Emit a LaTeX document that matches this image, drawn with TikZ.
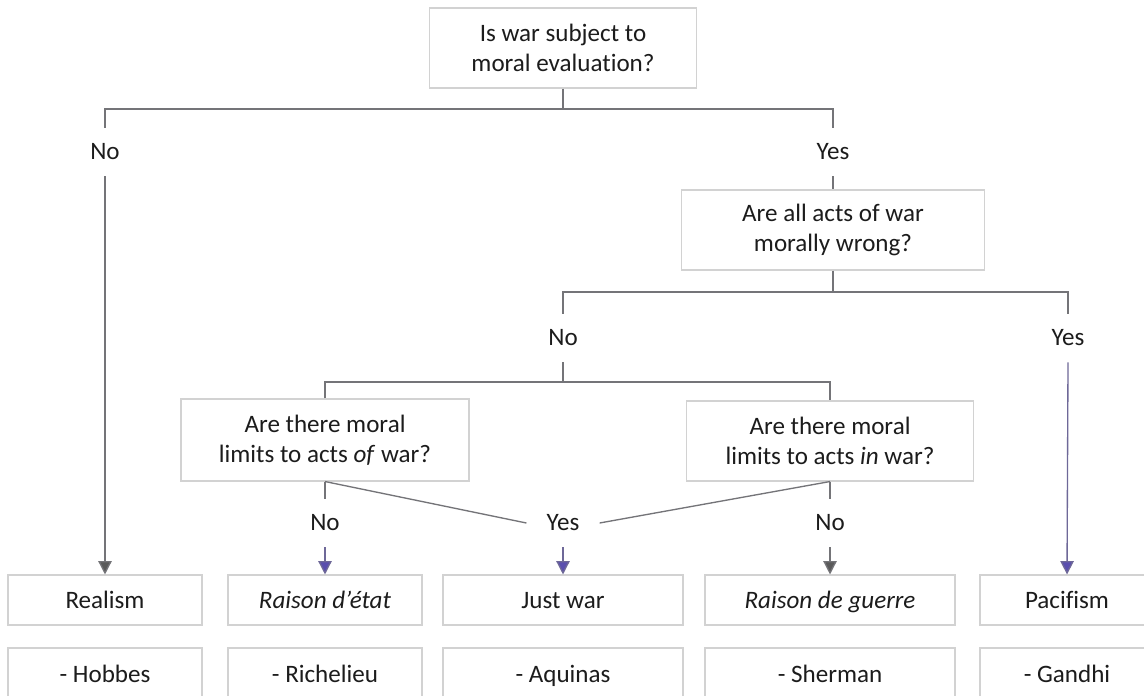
\documentclass[tikz,border=0pt]{standalone}
\usepackage{fontspec}
\setmainfont{Carlito}[Ligatures=NoCommon]
\usetikzlibrary{arrows.meta}
\definecolor{linegray}{HTML}{747478}
\definecolor{boxgray}{HTML}{D2D2D2}
\definecolor{inkblack}{HTML}{1C1C1C}
\definecolor{tipgray}{HTML}{5A5A5A}
\definecolor{tippurple}{HTML}{5A4EAE}
\definecolor{linepurple}{HTML}{6E6898}
\newcommand{\chartfont}{\fontsize{18.8pt}{22.5pt}\selectfont}
\tikzset{
  qbox/.style={draw=boxgray, line width=0.8pt, fill=white, inner sep=0pt,
    align=center, text=inkblack, font=\chartfont},
  onebox/.style={qbox, text height=16pt, text depth=3.5pt},
  answer/.style={inner xsep=15pt, inner ysep=0pt, minimum height=36pt,
    text=inkblack, font=\chartfont},
  conn/.style={draw=linegray, line width=1pt},
  grayarrow/.style={draw=linegray, line width=1pt,
    -{Triangle[length=10pt,width=10pt,fill=tipgray]}},
  purplearrow/.style={draw=linepurple, line width=1pt,
    -{Triangle[length=10pt,width=10pt,fill=tippurple]}},
}
\begin{document}
\begin{tikzpicture}[x=0.75pt,y=-0.75pt]
\clip (0,0) rectangle (1144,695);
\fill[white] (0,0) rectangle (1144,695);

% question boxes
\node[qbox, minimum width=200pt, minimum height=60pt] (q1) at (563,48)
  {Is war subject to\\moral evaluation?};
\node[qbox, minimum width=227pt, minimum height=60pt] (q2) at (833,230)
  {Are all acts of war\\morally wrong?};
\node[qbox, minimum width=216pt, minimum height=61.5pt] (q3) at (325,440)
  {Are there moral\\limits to acts \textit{of} war?};
\node[qbox, minimum width=215pt, minimum height=60pt] (q4) at (830,441)
  {Are there moral\\limits to acts \textit{in} war?};

% outcome boxes
\node[onebox, minimum width=145.5pt, minimum height=37.5pt] (realism) at (105,600) {Realism};
\node[onebox, minimum width=145.5pt, minimum height=37.5pt] (etat) at (325,600) {\textit{Raison d'état}};
\node[onebox, minimum width=180pt, minimum height=37.5pt] (just) at (563,600) {Just war};
\node[onebox, minimum width=187.5pt, minimum height=37.5pt] (guerre) at (830,600) {\textit{Raison de guerre}};
\node[onebox, minimum width=130.5pt, minimum height=37.5pt] (pacifism) at (1067,600) {Pacifism};

% exemplars
\node[onebox, minimum width=145.5pt, minimum height=39pt] (hobbes) at (105,674) {- Hobbes};
\node[onebox, minimum width=145.5pt, minimum height=39pt] (richelieu) at (325,674) {- Richelieu};
\node[onebox, minimum width=180pt, minimum height=39pt] (aquinas) at (563,674) {- Aquinas};
\node[onebox, minimum width=187.5pt, minimum height=39pt] (sherman) at (830,674) {- Sherman};
\node[onebox, minimum width=130.5pt, minimum height=39pt] (gandhi) at (1067,674) {- Gandhi};

% answer labels
\node[answer] (no1) at (105,152) {No};
\node[answer] (yes1) at (833,152) {Yes};
\node[answer] (no2) at (563,338) {No};
\node[answer] (yes2) at (1068,338) {Yes};
\node[answer] (no3) at (325,523) {No};
\node[answer] (yes3) at (563,523) {Yes};
\node[answer] (no4) at (830,523) {No};

% junctions of the bracket lines
\coordinate (j1) at (563,109);
\coordinate (j2) at (833,292);
\coordinate (j3) at (563,382);

% first question
\draw[conn] (q1.south) -- (j1);
\draw[conn] (no1.north) |- (j1) -| (yes1.north);
\draw[grayarrow] (no1.south) -- (realism.north);
\draw[conn] (yes1.south) -- (q2.north);

% second question
\draw[conn] (q2.south) -- (j2);
\draw[conn] (no2.north) |- (j2) -| (yes2.north);
\draw[purplearrow] (yes2.south) -- (pacifism.north);
\draw[conn] (no2.south) -- (j3);
\draw[conn] (q3.north) |- (j3) -| (q4.north);

% acts of war
\draw[conn] (q3.south) -- (no3.north);
\draw[purplearrow] (no3.south) -- (etat.north);
\draw[conn] (q3.south) -- (yes3.west);

% acts in war
\draw[conn] (q4.south) -- (no4.north);
\draw[grayarrow] (no4.south) -- (guerre.north);
\draw[conn] (q4.south) -- (yes3.east);

\draw[purplearrow] (yes3.south) -- (just.north);
\end{tikzpicture}
\end{document}
